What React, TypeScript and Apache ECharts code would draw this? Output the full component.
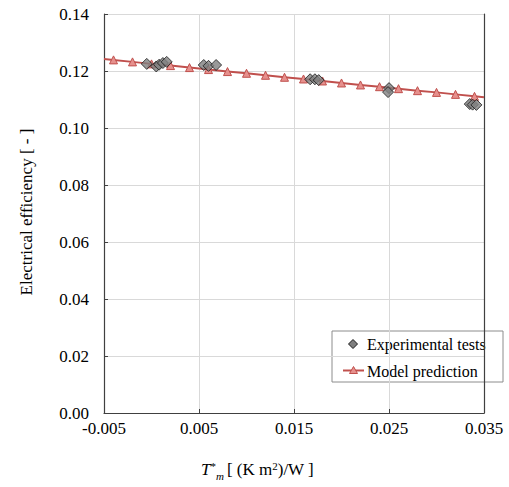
import React, { useEffect, useRef } from "react";
import * as echarts from "echarts";

const expX = [-0.0005, 0.0005, 0.0008, 0.0012, 0.0016, 0.0055, 0.006, 0.0068, 0.0167, 0.0172, 0.0176, 0.025, 0.0249, 0.0335, 0.0338, 0.0342];
const expY = [0.1225, 0.1216, 0.1222, 0.1228, 0.1232, 0.1221, 0.1218, 0.1221, 0.1171, 0.1171, 0.1168, 0.114, 0.1126, 0.1084, 0.1082, 0.1081];

const modelX = [-0.004, -0.002, 0, 0.002, 0.004, 0.006, 0.008, 0.01, 0.012, 0.014, 0.016, 0.018, 0.02, 0.022, 0.024, 0.026, 0.028, 0.03, 0.032, 0.034];
const modelY = [0.1239, 0.1232, 0.1225, 0.1219, 0.1212, 0.1205, 0.1198, 0.1192, 0.1185, 0.1178, 0.1172, 0.1165, 0.1158, 0.1151, 0.1145, 0.1138, 0.1131, 0.1125, 0.1118, 0.1111];
const modelEdgeX = [-0.005, 0.035];
const modelEdgeY = [0.1242, 0.1108];

const xTicks = ["-0.005", "0.005", "0.015", "0.025", "0.035"];
const yTicks = ["0.00", "0.02", "0.04", "0.06", "0.08", "0.10", "0.12", "0.14"];

const FONT = "Liberation Serif";
const RED = "#c0504d";
const TRI_FILL = "#e6908d";

export default function App() {
  const ref = useRef<HTMLDivElement>(null);
  useEffect(() => {
    if (!ref.current) return;
    const chart = echarts.init(ref.current, null, { renderer: "svg" });
    const modelData: any[] = [
      { value: [modelEdgeX[0], modelEdgeY[0]], symbol: "none" },
      ...modelX.map((x, i) => [x, modelY[i]]),
      { value: [modelEdgeX[1], modelEdgeY[1]], symbol: "none" },
    ];
    chart.setOption({
      animation: false,
      backgroundColor: "#fff",
      textStyle: { fontFamily: FONT },
      grid: { left: 104, right: 25, top: 14, bottom: 74, containLabel: false },
      xAxis: {
        type: "value",
        min: -0.005,
        max: 0.035,
        interval: 0.01,
        axisLine: { show: true, onZero: false, lineStyle: { color: "#404040", width: 1.2 } },
        axisTick: { show: true, inside: true, length: 4, lineStyle: { color: "#404040" } },
        splitLine: { show: true, lineStyle: { color: "#d9d9d9", width: 1 } },
        axisLabel: {
          fontFamily: FONT,
          fontSize: 17,
          color: "#000",
          margin: 7,
          formatter: (v: number) => {
            const idx = Math.round((v + 0.005) / 0.01);
            return xTicks[idx] ?? v.toFixed(3);
          },
        },
      },
      yAxis: [
        {
          type: "value",
          min: 0,
          max: 0.14,
          interval: 0.02,
          axisLine: { show: true, onZero: false, lineStyle: { color: "#404040", width: 1.2 } },
          axisTick: { show: true, inside: true, length: 4, lineStyle: { color: "#404040" } },
          splitLine: { show: true, lineStyle: { color: "#d9d9d9", width: 1 } },
          axisLabel: {
            fontFamily: FONT,
            fontSize: 17,
            color: "#000",
            margin: 15,
            formatter: (v: number) => yTicks[Math.round(v / 0.02)] ?? v.toFixed(2),
          },
        },
        {
          type: "value",
          position: "right",
          min: 0,
          max: 0.14,
          interval: 0.02,
          axisLine: { show: true, onZero: false, lineStyle: { color: "#404040", width: 1.2 } },
          axisTick: { show: false },
          axisLabel: { show: false },
          splitLine: { show: false },
        },
      ],
      series: [
        {
          name: "Model prediction",
          type: "line",
          data: modelData,
          symbol: "triangle",
          symbolSize: 8,
          showSymbol: true,
          lineStyle: { color: RED, width: 2 },
          itemStyle: { color: TRI_FILL, borderColor: RED, borderWidth: 1 },
          z: 2,
        },
        {
          name: "Experimental tests",
          type: "scatter",
          data: expX.map((x, i) => [x, expY[i]]),
          symbol: "diamond",
          symbolSize: 11,
          itemStyle: { color: "#7f7f7f", borderColor: "#1a1a1a", borderWidth: 1 },
          z: 3,
        },
      ],
      graphic: [
        {
          type: "text",
          x: 26,
          y: 212,
          rotation: Math.PI / 2,
          style: {
            text: "Electrical efficiency [ - ]",
            fontFamily: FONT,
            fontSize: 17,
            fill: "#000",
            align: "center",
            verticalAlign: "middle",
          },
        },
        {
          type: "text",
          x: 201,
          y: 457,
          style: {
            text: "{i|T}{sup|*}{sub|m}{n|[ (K m}{sup|2}{n|)/W ]}",
            fill: "#000",
            rich: {
              i: { fontFamily: FONT, fontSize: 17, fontStyle: "italic", lineHeight: 24, verticalAlign: "middle" },
              sup: { fontFamily: FONT, fontSize: 11, lineHeight: 24, verticalAlign: "top", padding: [3, 0, 0, 0] },
              sub: { fontFamily: FONT, fontSize: 11, fontStyle: "italic", lineHeight: 24, verticalAlign: "bottom", padding: [0, 3, 0, 0] },
              n: { fontFamily: FONT, fontSize: 17, lineHeight: 24, verticalAlign: "middle" },
            },
          },
        },
        {
          type: "group",
          z: 100,
          children: [
            {
              type: "rect",
              shape: { x: 332, y: 331, width: 171, height: 51 },
              style: { fill: "#fff", stroke: "#8c8c8c", lineWidth: 1 },
            },
            {
              type: "polygon",
              shape: { points: [[353, 339.5], [357.5, 344], [353, 348.5], [348.5, 344]] },
              style: { fill: "#7f7f7f", stroke: "#1a1a1a", lineWidth: 1 },
            },
            {
              type: "text",
              x: 367,
              y: 344,
              style: { text: "Experimental tests", fontFamily: FONT, fontSize: 16, fill: "#000", verticalAlign: "middle" },
            },
            {
              type: "line",
              shape: { x1: 343, y1: 370.5, x2: 364, y2: 370.5 },
              style: { stroke: RED, lineWidth: 2 },
            },
            {
              type: "polygon",
              shape: { points: [[353.5, 366.5], [357.5, 373.5], [349.5, 373.5]] },
              style: { fill: TRI_FILL, stroke: RED, lineWidth: 1 },
            },
            {
              type: "text",
              x: 367,
              y: 371,
              style: { text: "Model prediction", fontFamily: FONT, fontSize: 16, fill: "#000", verticalAlign: "middle" },
            },
          ],
        },
      ],
    });
    return () => chart.dispose();
  }, []);
  return <div ref={ref} style={{ width: 509, height: 487, position: "absolute", left: 0, top: 0 }} />;
}
